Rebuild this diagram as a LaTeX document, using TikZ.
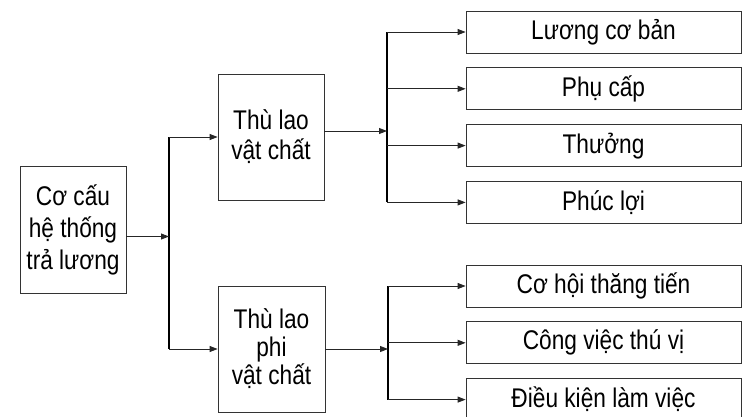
\documentclass[tikz,border=0pt]{standalone}
\usepackage{fontspec}
\setmainfont{Liberation Sans}[FakeStretch=0.84]
\usetikzlibrary{arrows.meta, positioning}

\begin{document}
\begin{tikzpicture}[
    x=1pt, y=-1pt,
    node distance=14pt,
    font=\fontsize{27}{32}\selectfont,
    box/.style={rectangle, draw=black!80, line width=0.8pt, align=center, inner sep=0pt},
    groupbox/.style={box, minimum width=106pt, minimum height=126pt},
    itembox/.style={box, minimum width=275pt, minimum height=42pt},
    bus/.style={line width=2pt, black},
    link/.style={draw=black!85, line width=0.9pt, -{Triangle[length=8pt, width=6pt]}}
]
\useasboundingbox (0,0) rectangle (742,416);
\clip (0,0) rectangle (742,416);

% gốc và hai nhóm thù lao
\node (root) [groupbox, minimum height=127pt] at (73,229.5) {Cơ cấu\\hệ thống\\trả lương};
\node (pay) [groupbox, font=\fontsize{27}{30}\selectfont] at (271,137) {Thù lao\\vật chất};
\node (nonpay) [groupbox, minimum width=107pt, font=\fontsize{27}{28}\selectfont] at (271.5,349) {Thù lao\\phi\\vật chất};

% các khoản vật chất
\node (l1) [itembox] at (603.5,32) {Lương cơ bản};
\node (l2) [itembox, below=of l1] {Phụ cấp};
\node (l3) [itembox, below=of l2] {Thưởng};
\node (l4) [itembox, below=of l3] {Phúc lợi};

% các khoản phi vật chất
\node (n1) [itembox] at (603.5,286) {Cơ hội thăng tiến};
\node (n2) [itembox, below=of n1] {Công việc thú vị};
\node (n3) [itembox, below=of n2] {Điều kiện làm việc};

% thanh phân nhánh
\coordinate (s1) at (169,0);
\coordinate (s2) at (387,0);
\coordinate (s3) at (388,0);

\draw[bus] (s1 |- pay) -- (s1 |- nonpay);
\draw[bus] (s2 |- l1) -- (s2 |- l4);
\draw[bus] (s3 |- n1) -- (s3 |- n3);

\draw[link] ([yshift=-7pt]root.east) -- ([yshift=-7pt]root.east -| s1);
\draw[link] (s1 |- pay) -- (pay);
\draw[link] (s1 |- nonpay) -- (nonpay);

\draw[link] ([yshift=6pt]pay.east) -- ([yshift=6pt]pay.east -| s2);
\draw[link] (nonpay) -- (s3 |- nonpay);

\foreach \i in {l1,l2,l3,l4}
    \draw[link] (s2 |- \i) -- (\i);
\foreach \i in {n1,n2,n3}
    \draw[link] (s3 |- \i) -- (\i);

\end{tikzpicture}
\end{document}
